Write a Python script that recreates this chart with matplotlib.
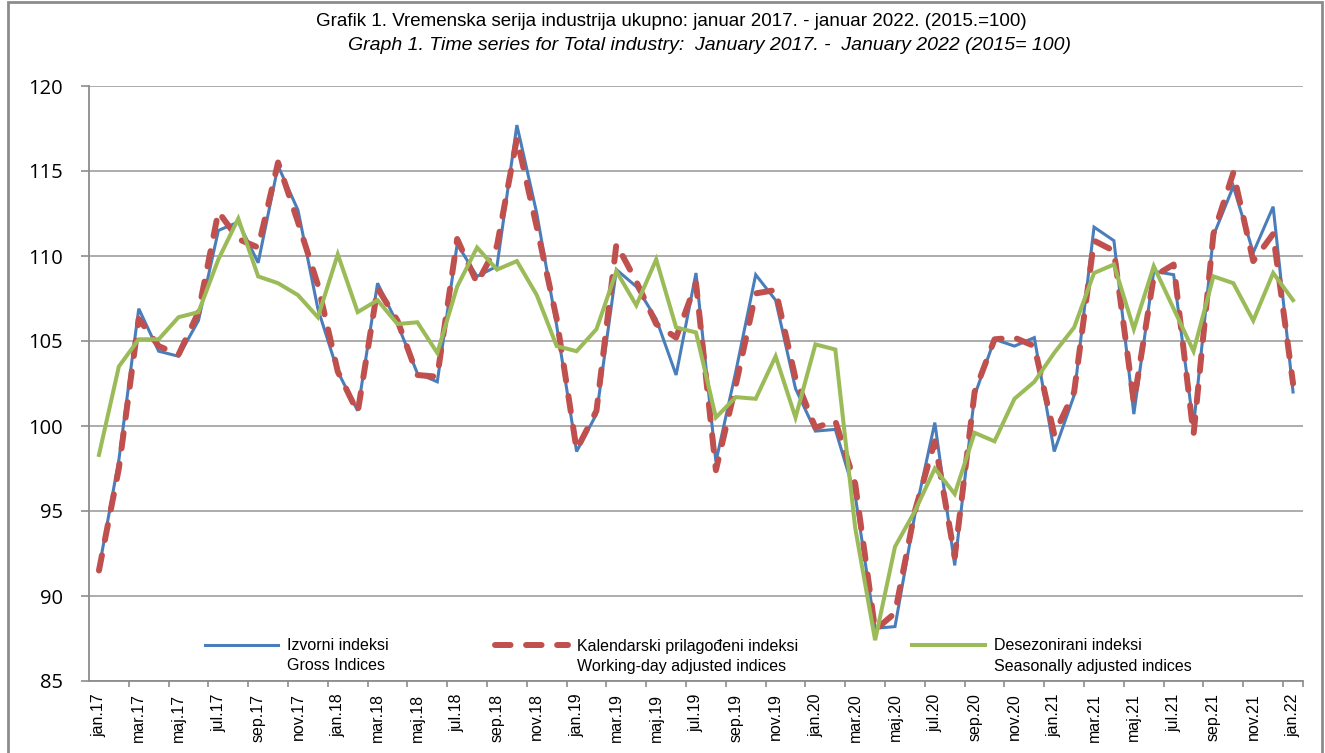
import matplotlib
matplotlib.use("Agg")
import matplotlib.pyplot as plt
from matplotlib.patches import Rectangle

# mjeseci jan.17 - jan.22
mjeseci = ["jan", "feb", "mar", "apr", "maj", "jun", "jul", "avg", "sep", "okt", "nov", "dec"]
godine = ["17", "18", "19", "20", "21"]
kategorije = [m + "." + g for g in godine for m in mjeseci] + ["jan.22"]

izvorni = [91.6, 98.0, 106.9, 104.4, 104.1, 106.2, 111.5, 112.0, 109.6, 115.3, 112.7, 106.9,
           103.2, 100.9, 108.4, 106.0, 103.1, 102.6, 110.7, 108.8, 109.4, 117.7, 112.5, 105.9,
           98.5, 100.7, 109.2, 108.2, 106.3, 103.0, 109.0, 97.9, 103.2, 108.9, 107.4, 102.2,
           99.7, 99.8, 95.9, 88.1, 88.2, 94.8, 100.2, 91.8, 101.8, 105.1, 104.7, 105.2,
           98.5, 101.8, 111.7, 110.9, 100.7, 109.1, 108.9, 100.0, 111.2, 114.1, 110.2, 112.9,
           102.0]

kalendarski = [91.5, 97.5, 106.3, 104.7, 104.2, 106.7, 112.6, 111.0, 110.5, 115.5, 112.0, 108.3,
               103.2, 100.8, 108.1, 106.2, 103.0, 102.9, 111.0, 108.4, 110.6, 116.9, 111.7, 106.3,
               98.6, 100.9, 110.7, 108.5, 106.0, 105.2, 108.4, 97.4, 102.4, 107.8, 108.0, 102.8,
               99.9, 100.3, 96.6, 88.0, 89.0, 95.0, 99.1, 92.3, 102.0, 105.1, 105.2, 104.7,
               99.5, 102.0, 110.9, 110.3, 101.4, 108.8, 109.5, 99.5, 111.3, 114.9, 109.7, 111.3,
               102.5]

desezonirani = [98.3, 103.5, 105.1, 105.1, 106.4, 106.7, 109.8, 112.2, 108.8, 108.4, 107.7, 106.4,
                110.1, 106.7, 107.4, 106.0, 106.1, 104.3, 108.2, 110.5, 109.2, 109.7, 107.7, 104.7,
                104.4, 105.7, 109.1, 107.1, 109.8, 105.8, 105.5, 100.5, 101.7, 101.6, 104.1, 100.5,
                104.8, 104.5, 94.0, 87.4, 92.9, 95.0, 97.5, 96.0, 99.6, 99.1, 101.6, 102.6,
                104.3, 105.8, 109.0, 109.5, 105.7, 109.4, 106.9, 104.4, 108.8, 108.4, 106.2, 109.0,
                107.4]

labele_hr = ["Izvorni indeksi", "Kalendarski prilagođeni indeksi", "Desezonirani indeksi"]
labele_en = ["Gross Indices", "Working-day adjusted indices", "Seasonally adjusted indices"]

W, H = 1325, 753
fig = plt.figure(figsize=(W / 100, H / 100), dpi=100)
fig.patches.append(Rectangle((8 / W, -0.05), (1322 - 8) / W, 1.05 - 2 / H,
                             transform=fig.transFigure, fill=False,
                             edgecolor="#8c8c8c", linewidth=2))

ax = fig.add_axes([89 / W, 1 - 681 / H, (1303 - 89) / W, (681 - 86) / H])
x = list(range(len(kategorije)))

l1, = ax.plot(x, izvorni, color="#4A7EBB", lw=2.2, solid_joinstyle="miter")
l2, = ax.plot(x, kalendarski, color="#C0504D", lw=4.3, dashes=(2.6, 2.6),
              dash_capstyle="round")
l3, = ax.plot(x, desezonirani, color="#9BBB59", lw=2.9, solid_joinstyle="miter")

ax.set_xlim(-0.5, len(kategorije) - 0.5)
ax.set_ylim(85, 120)
ax.set_yticks(range(85, 121, 5))
ax.yaxis.grid(True, color="#a6a6a6", lw=1.3)
ax.set_axisbelow(True)
for s in ["top", "right"]:
    ax.spines[s].set_visible(False)
for s in ["left", "bottom"]:
    ax.spines[s].set_color("#8c8c8c")
    ax.spines[s].set_linewidth(1.3)

ax.tick_params(axis="y", length=6, width=1.2, color="#8c8c8c", pad=13,
               labelsize=14.5)
for t in ax.get_yticklabels():
    t.set_fontfamily("Open Sans")

ax.set_xticks(x[::2])
ax.set_xticklabels(kategorije[::2], rotation=90, fontsize=11.5, family="Liberation Sans")
ax.set_xticks([i - 0.5 for i in x[::2]][1:] + [len(kategorije) - 0.5], minor=True)
ax.tick_params(axis="x", which="major", length=0, pad=9)
ax.tick_params(axis="x", which="minor", length=4, width=1.2, color="#8c8c8c")

# legenda: tri zasebne stavke
handles = [l1, l2, l3]
xpos = [205, 495, 912]
legs = []
for h, lab, xp in zip(handles, labele_hr, xpos):
    lg = fig.legend(handles=[h], labels=[lab], loc="center left",
                    bbox_to_anchor=(xp / W, 1 - 646 / H), frameon=False,
                    borderpad=0, borderaxespad=0, handlelength=4.56,
                    handletextpad=0.56, prop={"family": "Liberation Sans", "size": 11.5})
    legs.append(lg)

fig.canvas.draw()
r = fig.canvas.get_renderer()
for lg, lab in zip(legs, labele_en):
    bb = lg.get_texts()[0].get_window_extent(r)
    fig.text(bb.x0 / W, (bb.y0 - 20 + bb.height / 2) / H, lab, ha="left", va="center",
             family="Liberation Sans", fontsize=11.5)

fig.text(671 / W, 1 - 22 / H,
         "Grafik 1. Vremenska serija industrija ukupno: januar 2017. - januar 2022. (2015.=100)",
         ha="center", va="center", family="Liberation Sans", fontsize=13.5)
fig.text(709 / W, 1 - 46 / H,
         "Graph 1. Time series for Total industry:  January 2017. -  January 2022 (2015= 100)",
         ha="center", va="center", family="Liberation Sans", fontsize=14, style="italic")

fig.savefig("out.png", dpi=100)
